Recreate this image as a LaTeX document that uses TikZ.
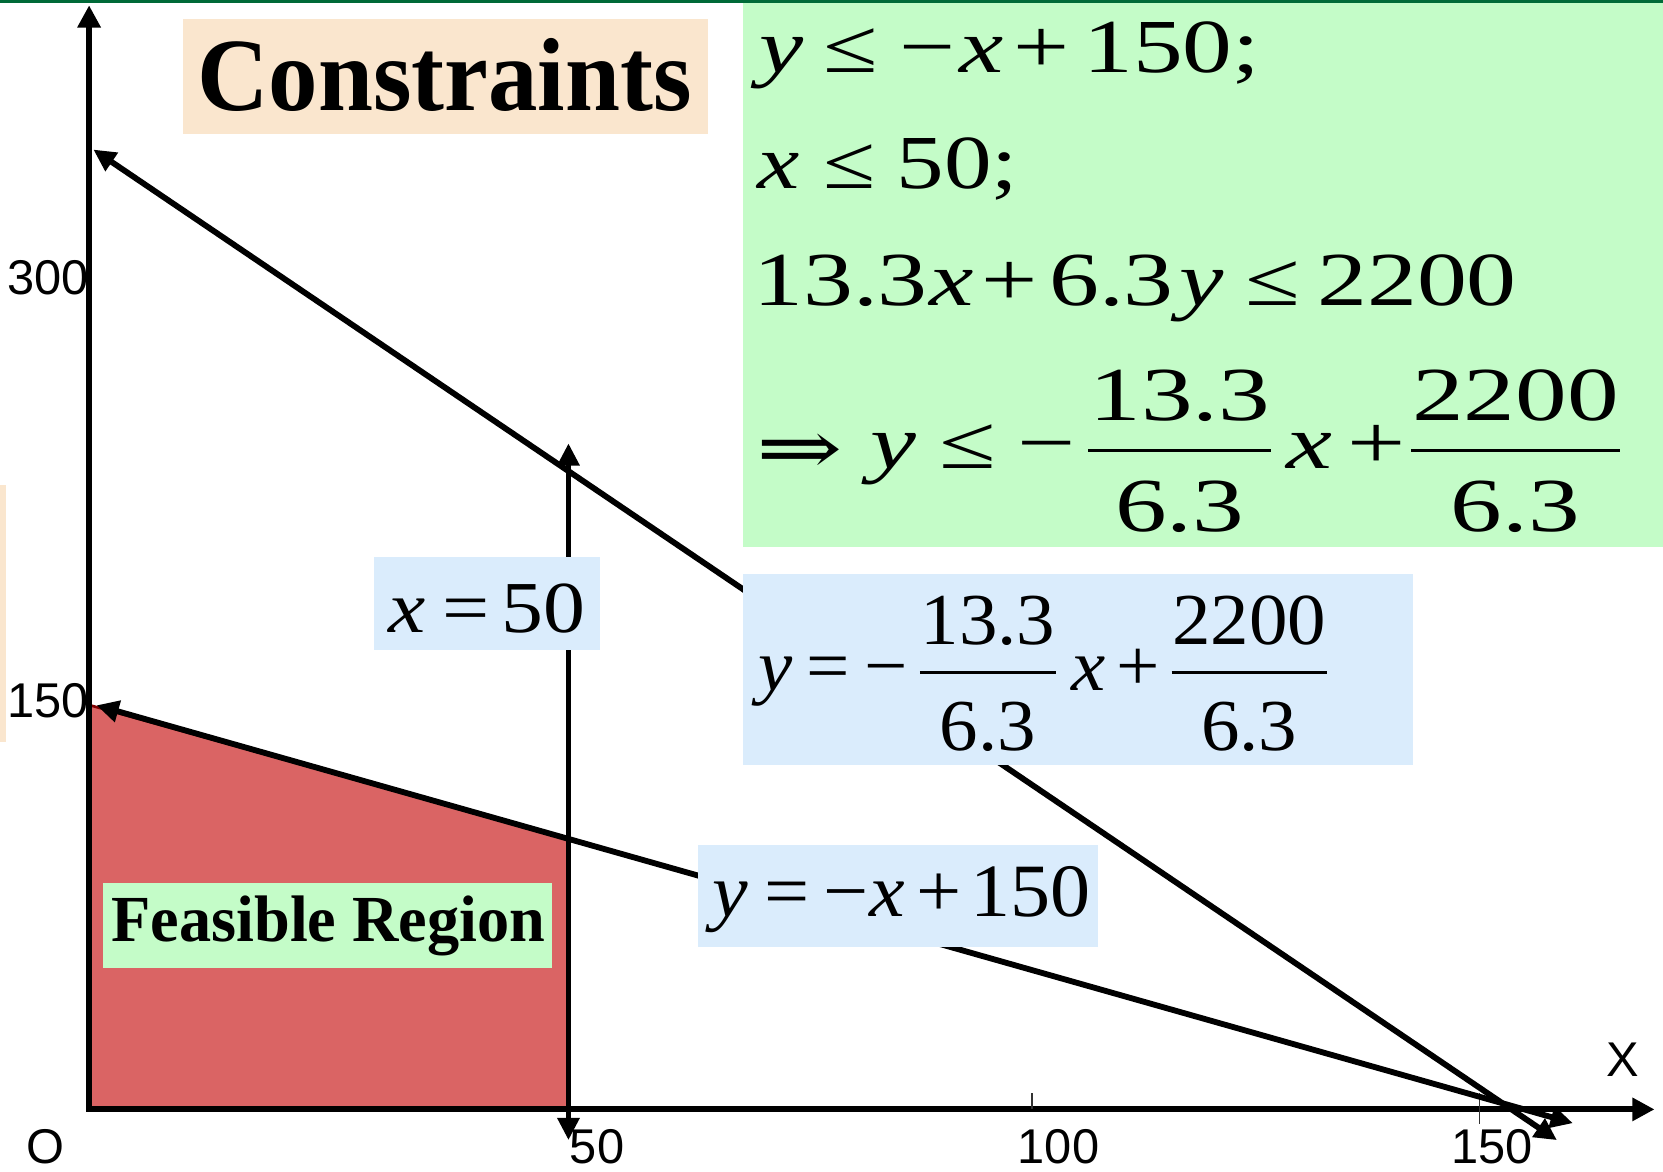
\documentclass[tikz,border=0pt]{standalone}
\usepackage{fontspec}
\usepackage{graphicx}
\setmainfont{Liberation Serif}
\setsansfont{Liberation Sans}
\newfontfamily\symf{DejaVu Serif}
\usetikzlibrary{arrows.meta}
\definecolor{topgreen}{RGB}{0,106,56}
\definecolor{boxgreen}{RGB}{196,252,200}
\definecolor{boxbeige}{RGB}{250,230,206}
\definecolor{boxblue}{RGB}{218,236,252}
\definecolor{regionred}{RGB}{218,100,100}
\definecolor{edgered}{RGB}{128,0,0}
\newdimen\frw
\newcommand\fr[2]{{\setbox0\hbox{#1}\setbox2\hbox{#2}%
  \frw=\wd0\relax
  \ifdim\wd2>\frw \frw=\wd2\relax\fi
  \advance\frw by 0.02em\relax
  \hbox to\frw{\hss\raise0.63em\box0\hss}\kern-\frw
  \hbox to\frw{\hss\lower0.82em\box2\hss}\kern-\frw
  \vrule height 0.26em depth -0.22em width\frw\relax}}
\newcommand\vx{\textit{x}}
\newcommand\vy{\textit{y}}
\begin{document}
\begin{tikzpicture}[x=1pt,y=-1pt,
  panel/.style={inner sep=0pt, outer sep=0pt, draw=none, anchor=north west},
  eqn/.style={inner sep=0pt, anchor=base west, font=\fontsize{72}{80}\selectfont},
  eqnb/.style={inner sep=0pt, anchor=base west, font=\fontsize{69}{76}\selectfont},
  lab/.style={inner sep=0pt, font=\sffamily\fontsize{46}{50}\selectfont},
  axisline/.style={line width=5.5pt, -{Triangle[length=21pt,width=21pt]}},
  bound/.style={line width=5.5pt, {Triangle[length=21pt,width=20pt]}-{Triangle[length=21pt,width=20pt]}},
  tickline/.style={line width=1.5pt, black!80}
]
\useasboundingbox (0,0) rectangle (1568,1105);

% feasible region
\path[fill=regionred, draw=edgered, line width=2.5pt, line join=miter]
  (85,665) -- (536,791) -- (536,1046) -- (85,1046) -- cycle;

% coordinates
\coordinate (O) at (84,1046);
\coordinate (Ox) at (81.5,1046);
\coordinate (ytop) at (84,5);
\coordinate (xend) at (1560,1046);
\coordinate (la1) at (91,665);
\coordinate (la2) at (1483,1059);
\coordinate (lb1) at (88,141);
\coordinate (lb2) at (1468,1075);
\coordinate (xa) at (536,418);
\coordinate (xb) at (536,1075);

% axes
\draw[axisline] (O) -- (ytop);
\draw[axisline] (Ox) -- (xend);
\draw[tickline] (973,1031) -- (973,1046);
\draw[tickline] (1395,1031) -- (1395,1060);

% constraint lines
\draw[bound] (la1) -- (la2);
\draw[bound] (lb1) -- (lb2);
\draw[bound] (xa) -- (xb);

% panels
\node[panel, fill=topgreen, minimum width=1568pt, minimum height=3pt] (topbar) at (0,0) {};
\node[panel, fill=boxbeige, minimum width=495pt, minimum height=108pt] (consbox) at (173,18) {};
\node[panel, fill=boxgreen, minimum width=867pt, minimum height=513pt] (eqbox) at (701,3) {};
\node[panel, fill=boxbeige, minimum width=6pt, minimum height=243pt] (sidestrip) at (0,457) {};
\node[panel, fill=boxblue, minimum width=213pt, minimum height=88pt] (xbox) at (353,525) {};
\node[panel, fill=boxblue, minimum width=631pt, minimum height=180pt] (bigbox) at (701,541) {};
\node[panel, fill=boxblue, minimum width=377pt, minimum height=96pt] (smallbox) at (658,797) {};
\node[panel, fill=boxgreen, minimum width=423pt, minimum height=80pt] (feasbox) at (97,833) {};

% texts
\node[inner sep=0pt, anchor=base west, font=\bfseries\fontsize{98}{100}\selectfont] (constext) at (186,104)
  {\resizebox{466pt}{\height}{Constraints}};
\node[eqn] (c1) at (716,68)
  {\resizebox{472pt}{\height}{\vy\hspace{14pt}≤\hspace{16pt}−\hspace{3pt}\vx\hspace{7pt}+\hspace{10pt}150;}};
\node[eqn] (c2) at (714,178)
  {\resizebox{246pt}{\height}{\vx\hspace{18pt}≤\hspace{16pt}50;}};
\node[eqn] (c3) at (710,288)
  {\resizebox{720pt}{\height}{13.3\hspace{1pt}\vx\hspace{6pt}+\hspace{8pt}6.3\hspace{4pt}\vy\hspace{16pt}≤\hspace{12pt}2200}};
\node[eqn] (c4) at (713,442)
  {\resizebox{814pt}{\height}{\raisebox{-5pt}{\symf ⇒}\hspace{19pt}\vy\hspace{16pt}≤\hspace{15pt}−\hspace{9pt}\fr{13.3}{6.3}\hspace{11pt}\vx\hspace{10pt}+\hspace{4pt}\fr{2200}{6.3}}};
\node[eqnb] (bigeq) at (715,651)
  {\resizebox{536pt}{\height}{\vy\hspace{12pt}=\hspace{13pt}−\hspace{11pt}\fr{13.3}{6.3}\hspace{14pt}\vx\hspace{10pt}+\hspace{10pt}\fr{2200}{6.3}}};
\node[inner sep=0pt, anchor=base west, font=\fontsize{71}{78}\selectfont] (smalleq) at (672,864)
  {\resizebox{356pt}{\height}{\vy\hspace{14pt}=\hspace{12pt}−\hspace{1pt}\vx\hspace{10pt}+\hspace{8pt}150}};
\node[eqnb] (xeq) at (366,596)
  {\resizebox{186pt}{\height}{\vx\hspace{14pt}=\hspace{10pt}50}};
\node[inner sep=0pt, anchor=base west, font=\bfseries\fontsize{62}{70}\selectfont] (feastext) at (105,888)
  {\resizebox{409pt}{\height}{Feasible Region}};

% axis labels
\node[lab] (t300) at (45,262) {300};
\node[lab] (t150y) at (45,661) {150};
\node[lab] (tO) at (43,1081) {O};
\node[lab] (t50) at (563,1081) {50};
\node[lab] (t100) at (998,1081) {100};
\node[lab] (t150x) at (1407,1081) {150};
\node[lab] (tX) at (1530,999) {X};
\end{tikzpicture}
\end{document}
